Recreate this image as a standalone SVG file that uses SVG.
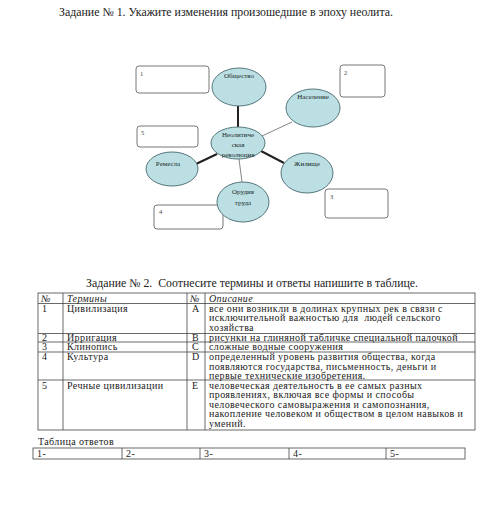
<svg xmlns="http://www.w3.org/2000/svg" width="500" height="513" viewBox="0 0 500 513">
<style>
.t{font-family:"Liberation Serif","DejaVu Serif",serif;fill:#222}
.h{font-size:12px}
.d{font-size:7px;text-anchor:middle;fill:#1a2a2a}
.n{font-size:6.5px;fill:#444}
.c{font-size:10px;letter-spacing:0.4px}
.i{font-style:italic}
.el{fill:#bcdfe3;stroke:#55777c;stroke-width:1}
.bx{fill:#fff;stroke:#777;stroke-width:1}
.thk{stroke:#222;stroke-width:2;fill:none}
.thn{stroke:#666;stroke-width:0.8;fill:none}
.tb{stroke:#444;stroke-width:0.8;fill:none}
</style>
<rect width="500" height="513" fill="#fff"/>
<text class="t h" x="59" y="16" textLength="334" lengthAdjust="spacingAndGlyphs">Задание № 1. Укажите изменения произошедшие в эпоху неолита.</text>

<g id="connectors">
<line class="thk" x1="238" y1="105" x2="238" y2="128"/>
<line class="thn" x1="292" y1="122" x2="262" y2="136"/>
<line class="thk" x1="196" y1="164" x2="217" y2="154"/>
<line class="thk" x1="261" y1="151" x2="284" y2="163"/>
<line class="thn" x1="239" y1="159" x2="242" y2="182"/>
</g>

<g id="box1"><rect class="bx" x="136" y="66" width="73" height="27" rx="3"/><text class="t n" x="140" y="76">1</text></g>
<g id="box2"><rect class="bx" x="340" y="65" width="45" height="32" rx="3"/><text class="t n" x="344" y="75">2</text></g>
<g id="box5"><rect class="bx" x="137" y="126" width="61" height="21" rx="3"/><text class="t n" x="141" y="135">5</text></g>
<g id="box4"><rect class="bx" x="154" y="205" width="69" height="24" rx="3"/><text class="t n" x="159" y="214">4</text></g>
<g id="box3"><rect class="bx" x="325" y="189" width="63" height="29" rx="3"/><text class="t n" x="330" y="199">3</text></g>

<g id="obshchestvo"><ellipse class="el" cx="239" cy="87" rx="27" ry="19"/><text class="t d" x="239" y="78">Общество</text></g>
<g id="naselenie"><ellipse class="el" cx="313" cy="108" rx="27" ry="19"/><text class="t d" x="313" y="99">Население</text></g>
<g id="neolit"><ellipse class="el" cx="238" cy="143" rx="27" ry="16"/><text class="t d" x="238" y="137">Неолитиче</text><text class="t d" x="238" y="147">ская</text><text class="t d" x="238" y="157">революция</text></g>
<g id="remesla"><ellipse class="el" cx="172" cy="169" rx="26" ry="17"/><text class="t d" x="168" y="166">Ремесла</text></g>
<g id="zhilishche"><ellipse class="el" cx="307" cy="173" rx="26" ry="20"/><text class="t d" x="307" y="166">Жилище</text></g>
<g id="orudiya"><ellipse class="el" cx="243" cy="202" rx="26" ry="20"/><text class="t d" x="243" y="194">Орудия</text><text class="t d" x="243" y="205">труда</text></g>

<text class="t h" x="86" y="287" textLength="332" lengthAdjust="spacingAndGlyphs" xml:space="preserve">Задание № 2.  Соотнесите термины и ответы напишите в таблице.</text>

<g id="table">
<rect class="tb" x="38" y="293" width="437" height="137"/>
<line class="tb" x1="63" y1="293" x2="63" y2="430"/>
<line class="tb" x1="187" y1="293" x2="187" y2="430"/>
<line class="tb" x1="205" y1="293" x2="205" y2="430"/>
<line class="tb" x1="38" y1="303.5" x2="475" y2="303.5"/>
<line class="tb" x1="38" y1="333.5" x2="475" y2="333.5"/>
<line class="tb" x1="38" y1="342" x2="475" y2="342"/>
<line class="tb" x1="38" y1="352" x2="475" y2="352"/>
<line class="tb" x1="38" y1="380" x2="475" y2="380"/>
<g class="t c">
<text class="i" x="41" y="301.5">№</text><text class="i" x="67" y="301.5">Термины</text><text class="i" x="190" y="301.5">№</text><text class="i" x="209" y="301.5">Описание</text>
<text x="42" y="311.5">1</text><text x="67" y="311.5">Цивилизация</text><text x="192" y="311.5">A</text>
<text x="209" y="311.5">все они возникли в долинах крупных рек в связи с</text>
<text x="209" y="321" xml:space="preserve">исключительной важностью для  людей сельского</text>
<text x="209" y="330.5">хозяйства</text>
<text x="42" y="340.5">2</text><text x="67" y="340.5">Ирригация</text><text x="192" y="340.5">B</text>
<text x="209" y="340.5">рисунки на глиняной табличке специальной палочкой</text>
<text x="42" y="350">3</text><text x="67" y="350">Клинопись</text><text x="192" y="350">C</text>
<text x="209" y="350">сложные водные сооружения</text>
<text x="42" y="360">4</text><text x="67" y="360">Культура</text><text x="192" y="360">D</text>
<text x="209" y="360">определенный уровень развития общества, когда</text>
<text x="209" y="369.5">появляются государства, письменность, деньги и</text>
<text x="209" y="379">первые технические изобретения.</text>
<text x="42" y="388.5">5</text><text x="67" y="388.5">Речные цивилизации</text><text x="192" y="388.5">E</text>
<text x="209" y="388.5">человеческая деятельность в ее самых разных</text>
<text x="209" y="398">проявлениях, включая все формы и способы</text>
<text x="209" y="407.5">человеческого самовыражения и самопознания,</text>
<text x="209" y="417">накопление человеком и обществом в целом навыков и</text>
<text x="209" y="426.5">умений.</text>
</g>
</g>

<g id="answers">
<text class="t c" x="38" y="445">Таблица ответов</text>
<rect class="tb" x="33" y="448" width="432" height="11"/>
<line class="tb" x1="122" y1="448" x2="122" y2="459"/>
<line class="tb" x1="200" y1="448" x2="200" y2="459"/>
<line class="tb" x1="289" y1="448" x2="289" y2="459"/>
<line class="tb" x1="386" y1="448" x2="386" y2="459"/>
<g class="t c"><text x="37" y="457">1-</text><text x="126" y="457">2-</text><text x="204" y="457">3-</text><text x="293" y="457">4-</text><text x="390" y="457">5-</text></g>
</g>
</svg>
